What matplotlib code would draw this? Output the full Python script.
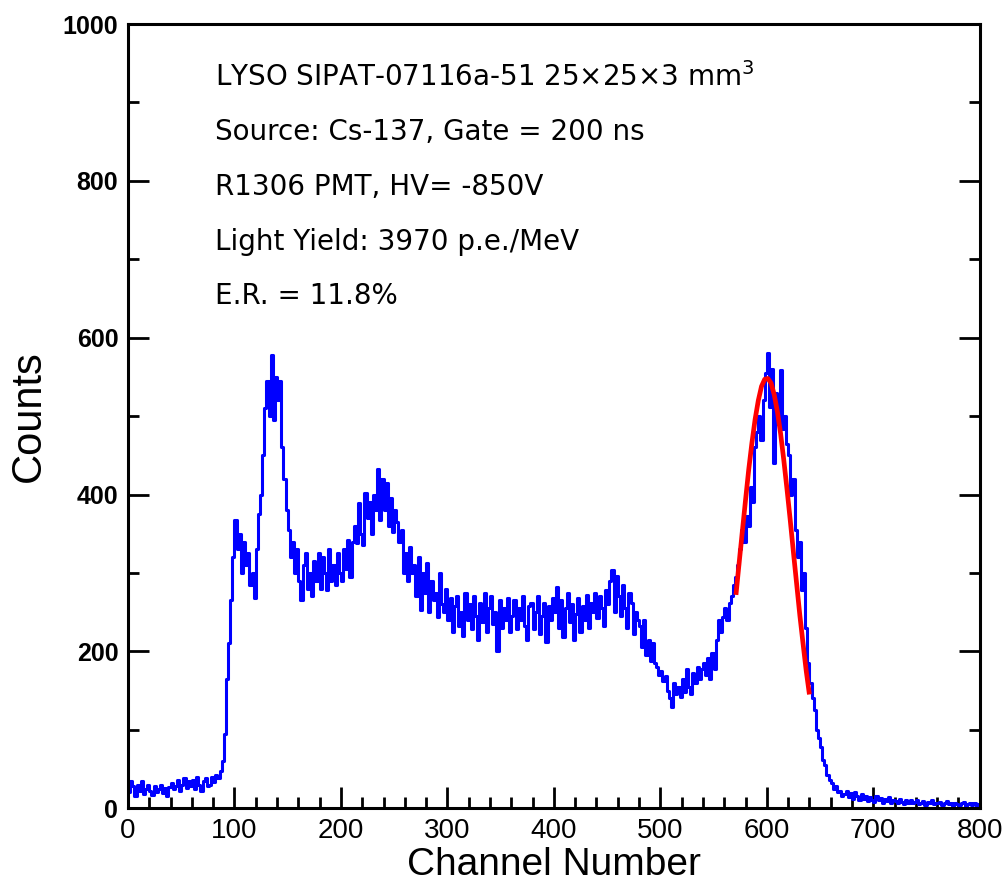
import matplotlib
matplotlib.use('Agg')
from matplotlib import pyplot as plt
from matplotlib.ticker import MultipleLocator

# spectrum, 2-channel bins
channel_step = 2
counts = [
    20, 35, 28, 16, 30, 22, 34, 18, 25, 30,           # 0-18
    22, 17, 28, 20, 24, 30, 19, 26, 16, 27,           # 20-38
    32, 24, 28, 36, 22, 30, 38, 26, 34, 28,           # 40-58
    36, 24, 40, 30, 22, 35, 38, 28, 30, 40,           # 60-78
    33, 42, 38, 48, 60, 95, 165, 210, 265, 320,       # 80-98
    368, 330, 350, 300, 340, 310, 325, 285, 300, 268,  # 100-118
    330, 375, 400, 450, 510, 545, 500, 578, 495, 550,  # 120-138
    520, 545, 460, 420, 380, 355, 320, 340, 300, 330,  # 140-158
    290, 265, 310, 325, 280, 300, 270, 315, 290, 325,  # 160-178
    280, 320, 300, 278, 330, 290, 310, 285, 325, 300,  # 180-198
    290, 330, 305, 342, 295, 340, 360, 338, 389, 350,  # 200-218
    335, 402, 370, 390, 350, 400, 380, 432, 368, 420,  # 220-238
    380, 415, 360, 395, 352, 380, 365, 340, 355, 300,  # 240-258
    325, 290, 333, 300, 310, 270, 320, 253, 300, 275,  # 260-278
    313, 250, 290, 265, 275, 244, 300, 260, 250, 280,  # 280-298
    240, 268, 225, 258, 270, 232, 250, 220, 275, 240,  # 300-318
    260, 228, 270, 245, 215, 262, 238, 275, 225, 255,  # 320-338
    270, 235, 250, 200, 265, 230, 255, 240, 268, 225,  # 340-358
    245, 265, 228, 255, 240, 270, 232, 215, 258, 262,  # 360-378
    228, 250, 270, 222, 245, 262, 212, 258, 240, 268,  # 380-398
    250, 282, 230, 265, 218, 255, 275, 238, 260, 215,  # 400-418
    248, 268, 225, 258, 240, 272, 230, 262, 250, 275,  # 420-438
    242, 270, 255, 232, 278, 260, 290, 304, 250, 296,  # 440-458
    270, 245, 285, 255, 230, 275, 262, 222, 250, 240,  # 460-478
    232, 205, 240, 195, 215, 188, 210, 185, 180, 170,  # 480-498
    175, 162, 168, 150, 140, 129, 160, 145, 155, 142,  # 500-518
    165, 148, 178, 155, 145, 172, 160, 180, 165, 178,  # 520-538
    185, 170, 192, 165, 198, 178, 215, 240, 225, 244,  # 540-558
    255, 240, 262, 270, 285, 295, 310, 330, 355, 340,  # 560-578
    372, 360, 410, 390, 460, 480, 500, 470, 520, 555,  # 580-598
    581, 512, 560, 440, 530, 490, 559, 483, 500, 465,  # 600-618
    450, 400, 420, 355, 320, 340, 278, 300, 230, 185,  # 620-638
    160, 140, 125, 100, 90, 78, 62, 55, 42, 36,        # 640-658
    32, 24, 28, 20, 22, 16, 18, 22, 14, 19,            # 660-678
    12, 20, 15, 10, 18, 12, 16, 9, 14, 11,             # 680-698
    8, 15, 10, 13, 7, 12, 9, 14, 6, 11,                # 700-718
    9, 6, 12, 8, 5, 10, 7, 11, 6, 8,                   # 720-738
    10, 5, 7, 9, 4, 8, 6, 10, 5, 7,                    # 740-758
    6, 8, 4, 7, 9, 5, 6, 3, 7, 5,                      # 760-778
    4, 6, 8, 3, 5, 7, 4, 6, 3, 5,                      # 780-798
]
channels = [i * channel_step for i in range(len(counts))]

# photopeak fit (red)
fit_channels = [571, 574, 577, 580, 583, 586, 589, 592, 595, 598, 601, 604,
                607, 610, 613, 616, 619, 622, 625, 628, 631, 634, 637, 640]
fit_counts = [272, 313, 353, 393, 432, 466, 496, 520, 538, 547, 548, 542,
              527, 505, 477, 443, 406, 367, 326, 286, 246, 210, 175, 145]

info_lines = [
    r'LYSO SIPAT-07116a-51 25$\times$25$\times$3 mm$^3$',
    'Source: Cs-137, Gate = 200 ns',
    'R1306 PMT, HV= -850V',
    'Light Yield: 3970 p.e./MeV',
    'E.R. = 11.8%',
]

plt.rcParams['font.family'] = ['Liberation Sans', 'DejaVu Sans']

fig = plt.figure(figsize=(10.08, 8.92), dpi=100)
ax = fig.add_axes([0.127, 0.094, 0.845, 0.879])

ax.step(channels, counts, where='post', color='blue', lw=2.2)
ax.plot(fit_channels, fit_counts, color='red', lw=3.4, solid_capstyle='butt')

ax.set_xlim(0, 800)
ax.set_ylim(0, 1000)
ax.xaxis.set_major_locator(MultipleLocator(100))
ax.xaxis.set_minor_locator(MultipleLocator(20))
ax.yaxis.set_major_locator(MultipleLocator(200))
ax.yaxis.set_minor_locator(MultipleLocator(100))
ax.tick_params(which='both', direction='in', top=False, right=True, width=2)
ax.tick_params(which='major', length=15)
ax.tick_params(which='minor', length=8)
ax.tick_params(axis='x', labelsize=20, pad=7)
ax.tick_params(axis='y', labelsize=18, pad=7)
for lab in ax.get_yticklabels():
    lab.set_fontweight('bold')
for sp in ax.spines.values():
    sp.set_linewidth(2.2)

ax.set_xlabel('Channel Number', fontsize=28, labelpad=2)
ax.set_ylabel('Counts', fontsize=30, labelpad=10)

for i, txt in enumerate(info_lines):
    ax.text(0.102, 0.932 - i * 0.0698, txt, transform=ax.transAxes,
            fontsize=20, va='center', ha='left', family='DejaVu Sans')

fig.savefig('out.png', dpi=100)
